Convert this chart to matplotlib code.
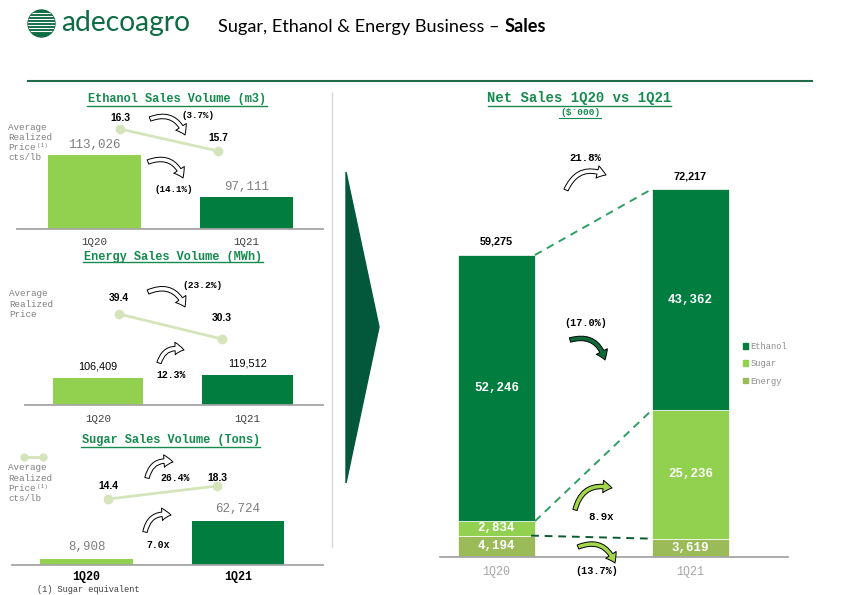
import matplotlib
matplotlib.use('Agg')
import matplotlib.pyplot as plt
from matplotlib.patches import FancyArrowPatch, Polygon, Circle, Patch

# ---- data ----
periods = ['1Q20', '1Q21']

ethanol_volume = [113026, 97111]      # m3
ethanol_price = [16.3, 15.7]          # cts/lb
energy_volume = [106409, 119512]      # MWh
energy_price = [39.4, 30.3]
sugar_volume = [8908, 62724]          # tons
sugar_price = [14.4, 18.3]

net_energy = [4194, 3619]             # $'000
net_sugar = [2834, 25236]
net_ethanol = [52246, 43362]
net_total = [59275, 72217]

change_labels = ['(3.7%)', '(14.1%)', '(23.2%)', '12.3%', '26.4%', '7.0x',
                 '21.8%', '(17.0%)', '8.9x', '(13.7%)']

# ---- style ----
W, H = 842, 595
MONO = 'Liberation Mono'
SANS = 'Liberation Sans'
DARK = '#007d3f'
LIGHT = '#92d050'
OLIVE = '#9bbb59'
PRICE = '#d6e4bc'
TITLE_GREEN = '#168a4f'
LOGO_GREEN = '#0f6b43'

fig = plt.figure(figsize=(W / 100, H / 100), dpi=100)


def px_axes(x0, y0, x1, y1):
    ax = fig.add_axes([x0 / W, 1 - y1 / H, (x1 - x0) / W, (y1 - y0) / H])
    ax.patch.set_visible(False)
    return ax


def bar_frame(ax, xlim, ylim, color, size, pad, weight='normal'):
    ax.set_xlim(*xlim)
    ax.set_ylim(*ylim)
    for s in ['top', 'right', 'left']:
        ax.spines[s].set_visible(False)
    ax.spines['bottom'].set_color('#a6a6a6')
    ax.spines['bottom'].set_linewidth(1.3)
    ax.set_yticks([])
    ax.set_xticks([0, 1], periods)
    ax.tick_params(axis='x', length=0, pad=pad, labelsize=size, labelcolor=color)
    for lab in ax.get_xticklabels():
        lab.set_fontfamily(MONO)
        lab.set_fontweight(weight)


def volume_bars(box, xlim, ylim, width, values, label_off, label_kw, tick_kw):
    ax = px_axes(*box)
    ax.bar([0, 1], values, width=width, color=[LIGHT, DARK])
    for i, v in enumerate(values):
        ax.annotate(f'{v:,}', (i, v), xytext=(0, label_off), textcoords='offset pixels',
                    ha='center', va='center', **label_kw)
    bar_frame(ax, xlim, ylim, **tick_kw)
    return ax


def price_line(box, ylim, prices, offsets):
    ax = px_axes(*box)
    ax.set_xlim(0, 1)
    ax.set_ylim(*ylim)
    ax.axis('off')
    ax.plot([0, 1], prices, color=PRICE, lw=2, marker='o', ms=6, clip_on=False)
    for i, (p, off) in enumerate(zip(prices, offsets)):
        ax.annotate(f'{p:.1f}', (i, p), xytext=(0, off), textcoords='offset pixels',
                    ha='center', va='center', fontfamily=SANS, fontweight='bold',
                    fontsize=7.4, color='black')


mono_grey = dict(fontfamily=MONO, fontsize=9, color='#7f7f7f')

# ethanol
volume_bars((17, 145, 323, 229), (-0.51, 1.503), (84986, 116816), 0.61,
            ethanol_volume, 10, mono_grey,
            dict(color='#404040', size=7.8, pad=5.5))
price_line((120, 120, 218, 160), (15.455, 16.545), ethanol_price, [11, 13])

# energy
volume_bars((25, 365, 323, 405), (-0.488, 1.505), (0, 159350), 0.605,
            energy_volume, 12, dict(fontfamily=SANS, fontsize=7.8, color='black'),
            dict(color='#404040', size=7.8, pad=6.5))
price_line((119, 305, 222, 345), (28.12, 42.68), energy_price, [16, 21])

# sugar
volume_bars((12, 515, 323, 565), (-0.492, 1.561), (0, 71277), 0.61,
            sugar_volume, 12, mono_grey,
            dict(color='black', size=8.4, pad=4.5, weight='bold'))
price_line((108, 480, 217, 505), (12.6, 20.1), sugar_price, [13, 8])

# net sales stacked bars
ax = px_axes(440, 180, 788, 557)
w = 0.397
x = [0, 1]
sugar_bottom = net_energy
eth_bottom = [e + s for e, s in zip(net_energy, net_sugar)]
ax.bar(x, net_energy, width=w, color=OLIVE, edgecolor='white', lw=0.5, label='Energy')
ax.bar(x, net_sugar, width=w, bottom=sugar_bottom, color=LIGHT, edgecolor='white', lw=0.5,
       label='Sugar')
ax.bar(x, net_ethanol, width=w, bottom=eth_bottom, color=DARK, edgecolor='white', lw=0.5,
       label='Ethanol')
seg_kw = dict(ha='center', va='center', color='white', fontfamily=MONO,
              fontweight='bold', fontsize=9)
for i in x:
    ax.text(i, net_energy[i] / 2, f'{net_energy[i]:,}', **seg_kw)
    ax.text(i, sugar_bottom[i] + net_sugar[i] / 2, f'{net_sugar[i]:,}', **seg_kw)
    ax.text(i, eth_bottom[i] + net_ethanol[i] / 2, f'{net_ethanol[i]:,}', **seg_kw)
    ax.annotate(f'{net_total[i]:,}', (i, net_total[i]), xytext=(0, 13),
                textcoords='offset pixels', ha='center', va='center',
                fontfamily=SANS, fontweight='bold', fontsize=7.8)
ax.plot([w / 2, 1 - w / 2], net_total, color='#2f9e63', lw=1.4, dashes=(4, 3))
ax.plot([w / 2, 1 - w / 2], eth_bottom, color='#2f9e63', lw=1.4, dashes=(4, 3))
ax.plot([w / 2 - 0.02, 1 - w / 2 - 0.02], net_energy, color='#0b5a34', lw=1.4, dashes=(4, 3))
bar_frame(ax, (-0.291, 1.503), (0, 73994), color='#a6a6a6', size=8.4, pad=6.5)
handles = [Patch(color=DARK, label='Ethanol'), Patch(color=LIGHT, label='Sugar'),
           Patch(color=OLIVE, label='Energy')]
ax.legend(handles=handles, loc='upper left', bbox_to_anchor=(743 / W, 1 - 342 / H),
          bbox_transform=fig.transFigure, frameon=False, borderpad=0, borderaxespad=0,
          handlelength=0.6, handleheight=0.6, handletextpad=0.25, labelspacing=0.95,
          prop=dict(family=MONO, size=6.3), labelcolor='#8c8c8c')

# ---- overlay in pixel coordinates ----
ov = fig.add_axes([0, 0, 1, 1], zorder=10)
ov.set_xlim(0, W)
ov.set_ylim(H, 0)
ov.axis('off')

# logo
logo = Circle((41.5, 23.5), 13.5, color=LOGO_GREEN)
ov.add_patch(logo)
for yy in [13, 16, 19, 22, 25, 28, 31]:
    ov.plot([27, 56], [yy, yy], color='white', lw=0.8, clip_path=logo)
ov.text(61, 23, 'adecoagro', fontfamily='Lato', fontsize=20.3, color=LOGO_GREEN,
        ha='left', va='center')

t1 = ov.text(218, 27, 'Sugar, Ethanol & Energy Business \u2013 ', fontfamily='Lato',
             fontsize=13.1, ha='left', va='center')
ov.annotate('Sales', xy=(1, 0), xycoords=t1, ha='left', va='bottom', fontfamily='Lato',
            fontsize=13.1, fontweight='bold')
ov.plot([28, 812], [81, 81], color='#1f6b4a', lw=1.5)

# separator and big arrow
ov.plot([332, 332], [93, 547], color='#d9d9d9', lw=1)
ov.add_patch(Polygon([(346, 172), (379, 327), (346, 483)], closed=True, color='#03573a'))

# panel titles with underline
titles = [('Ethanol Sales Volume (m3)', 177, 99, 8.6, 106, 87, 267),
          ('Energy Sales Volume (MWh)', 173, 257, 8.6, 262, 83, 263),
          ('Sugar Sales Volume (Tons)', 171, 440, 8.6, 447, 81, 260),
          ('Net Sales 1Q20 vs 1Q21', 579, 98, 10, 106, 488, 671)]
for txt, tx, ty, fs, uy, ux0, ux1 in titles:
    ov.text(tx, ty, txt, fontfamily=MONO, fontweight='bold', fontsize=fs,
            color=TITLE_GREEN, ha='center', va='center')
    ov.plot([ux0, ux1], [uy, uy], color=TITLE_GREEN, lw=1)
ov.text(580, 112.5, '($\u00b4000)', fontfamily=MONO, fontweight='bold', fontsize=6.8,
        color=TITLE_GREEN, ha='center', va='center')
ov.plot([559, 601], [118, 118], color=TITLE_GREEN, lw=0.8)

# side notes
grey_note = dict(fontfamily=MONO, fontsize=6.7, color='#808080', ha='left', va='center')
for lines, x0, y0, sup in [(['Average', 'Realized', 'Price', 'cts/lb'], 8, 127, True),
                           (['Average', 'Realized', 'Price'], 9, 294, False),
                           (['Average', 'Realized', 'Price', 'cts/lb'], 8, 468, True)]:
    for k, s in enumerate(lines):
        ov.text(x0, y0 + k * 10.3, s, **grey_note)
    if sup:
        ov.text(x0 + 29, y0 + 2 * 10.3 - 2.5, '(1)', fontfamily=MONO, fontsize=4.3,
                color='#808080', ha='left', va='center')
ov.plot([24, 43], [457, 457], color=PRICE, lw=2, marker='o', ms=5)
ov.text(37, 589.5, '(1) Sugar equivalent', fontfamily=MONO, fontsize=6.2, color='#404040',
        ha='left', va='center')

# change labels and curved arrows
label_pos = [(198, 116), (174, 190), (202, 285), (171, 375), (175, 478), (158, 545),
             (585, 158), (586, 323), (601, 517), (597, 571)]
label_size = [6.6, 6.6, 6.8, 7.0, 7.0, 7.0, 7.7, 7.3, 7.7, 7.3]
for s, (lx, ly), fs in zip(change_labels, label_pos, label_size):
    ov.text(lx, ly, s, fontfamily=MONO, fontweight='bold', fontsize=fs,
            ha='center', va='center')

arrows = [((150, 119), (185, 135), 'white'), ((148, 162), (183, 178), 'white'),
          ((148, 292), (185, 307), 'white'), ((159, 363), (184, 350), 'white'),
          ((147, 478), (173, 462), 'white'), ((145, 532), (171, 515), 'white'),
          ((566, 190), (606, 175), 'white'), ((570, 340), (605, 360), '#0d6e3c'),
          ((575, 510), (612, 488), '#a5d74a'), ((578, 547), (615, 563), '#a5d74a')]
for tail, head, fc in arrows:
    ov.add_patch(FancyArrowPatch(tail, head, connectionstyle='arc3,rad=-0.5',
                                 arrowstyle='simple,head_length=0.65,head_width=0.9,tail_width=0.32',
                                 mutation_scale=10, facecolor=fc, edgecolor='black', lw=0.7,
                                 shrinkA=0, shrinkB=0))

fig.savefig('out.png', dpi=100)
